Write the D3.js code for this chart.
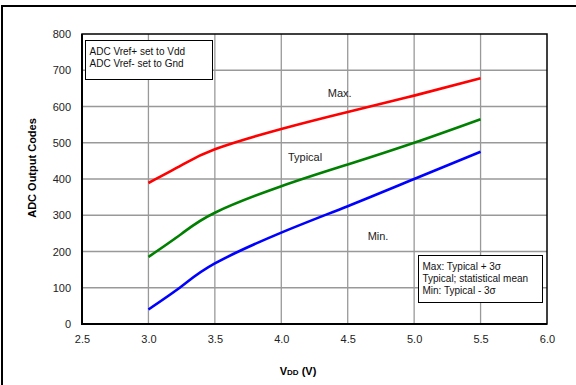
<!DOCTYPE html>
<html>
<head>
<meta charset="utf-8">
<script src="https://cdn.jsdelivr.net/npm/d3@7"></script>
<style>
  body { margin: 0; background: #fff; }
  svg { display: block; font-family: "Liberation Sans", Arial, sans-serif; }
</style>
</head>
<body>
<svg width="576" height="385"></svg>
<script>
// data
var vdd = [3.0, 3.25, 3.5, 4.0, 4.5, 5.0, 5.5];
var maxCodes = [389, 438, 482, 538, 585, 630, 678];
var typCodes = [185, 249, 307, 380, 440, 500, 565];
var minCodes = [40, 104, 167, 252, 325, 400, 475];
var xTicks = [2.5, 3.0, 3.5, 4.0, 4.5, 5.0, 5.5, 6.0];
var yTicks = [0, 100, 200, 300, 400, 500, 600, 700, 800];
var noteTop = ["ADC Vref+ set to Vdd", "ADC Vref- set to Gnd"];
var noteBottom = ["Max: Typical + 3\u03c3", "Typical; statistical mean", "Min: Typical - 3\u03c3"];

var margin = {top: 34, right: 29, bottom: 61, left: 82};
var width = 576 - margin.left - margin.right;
var height = 385 - margin.top - margin.bottom;

var svg = d3.select("svg");

// outer frame (only top and left visible)
svg.append("path")
   .attr("d", "M2,385 L2,6 L576,6")
   .attr("fill", "none")
   .attr("stroke", "#000")
   .attr("stroke-width", 2);

var g = svg.append("g")
           .attr("transform", "translate(" + margin.left + "," + margin.top + ")");

var x = d3.scaleLinear().domain([2.5, 6.0]).range([0, width]);
var y = d3.scaleLinear().domain([0, 800]).range([height, 0]);

// grid
g.append("g").selectAll("line")
 .data(xTicks.slice(1, -1))
 .enter().append("line")
 .attr("x1", d => x(d)).attr("x2", d => x(d))
 .attr("y1", 0).attr("y2", height)
 .attr("stroke", "#999").attr("stroke-width", 1.3);
g.append("g").selectAll("line")
 .data(yTicks.slice(1, -1))
 .enter().append("line")
 .attr("x1", 0).attr("x2", width)
 .attr("y1", d => y(d)).attr("y2", d => y(d))
 .attr("stroke", "#999").attr("stroke-width", 1.3);

// plot frame
g.append("rect")
 .attr("width", width).attr("height", height)
 .attr("fill", "none").attr("stroke", "#000").attr("stroke-width", 1.5);
g.append("path")
 .attr("d", "M0,0 L0," + height + " L" + width + "," + height)
 .attr("fill", "none").attr("stroke", "#000").attr("stroke-width", 2);

// axes
var xAxis = g.append("g")
             .attr("transform", "translate(0," + height + ")")
             .call(d3.axisBottom(x).tickValues(xTicks).tickFormat(d3.format(".1f")).tickSize(0).tickPadding(11));
var yAxis = g.append("g")
             .call(d3.axisLeft(y).tickValues(yTicks).tickSize(0).tickPadding(11));
[xAxis, yAxis].forEach(function (a) {
    a.select(".domain").remove();
    a.selectAll("text").attr("font-size", 11).attr("fill", "#222")
     .attr("font-family", "Liberation Sans, Arial, sans-serif");
});

// axis titles
svg.append("text")
   .attr("transform", "translate(36,168) rotate(-90)")
   .attr("text-anchor", "middle")
   .attr("font-size", 11).attr("font-weight", "bold")
   .text("ADC Output Codes");
var xt = svg.append("text")
   .attr("x", 298).attr("y", 375)
   .attr("text-anchor", "middle")
   .attr("font-size", 11).attr("font-weight", "bold");
xt.append("tspan").text("V");
xt.append("tspan").attr("font-size", 8).text("DD");
xt.append("tspan").text(" (V)");

// curves
var line = d3.line()
             .x((d, i) => x(vdd[i]))
             .y(d => y(d))
             .curve(d3.curveNatural);
[[maxCodes, "#ff0000"], [typCodes, "#008000"], [minCodes, "#0000ff"]].forEach(function (s) {
    g.append("path")
     .attr("d", line(s[0]))
     .attr("fill", "none")
     .attr("stroke", s[1])
     .attr("stroke-width", 2.6);
});

// curve labels
var labels = [["Max.", 4.35, 625], ["Typical", 4.05, 450], ["Min.", 4.65, 232]];
g.selectAll(".lbl")
 .data(labels)
 .enter().append("text")
 .attr("x", d => x(d[1])).attr("y", d => y(d[2]))
 .attr("font-size", 11).attr("fill", "#222")
 .text(d => d[0]);

// note boxes
function noteBox(x0, y0, w, h, lines) {
    svg.append("rect")
       .attr("x", x0).attr("y", y0).attr("width", w).attr("height", h)
       .attr("fill", "#fff").attr("stroke", "#000").attr("stroke-width", 1);
    svg.selectAll(null)
       .data(lines)
       .enter().append("text")
       .attr("x", x0 + 4)
       .attr("y", (d, i) => y0 + 14 + i * 12)
       .attr("font-size", 10).attr("fill", "#111")
       .text(d => d);
}
noteBox(85.5, 40.5, 127, 39, noteTop);
noteBox(418.5, 255.5, 124, 47, noteBottom);
</script>
</body>
</html>
